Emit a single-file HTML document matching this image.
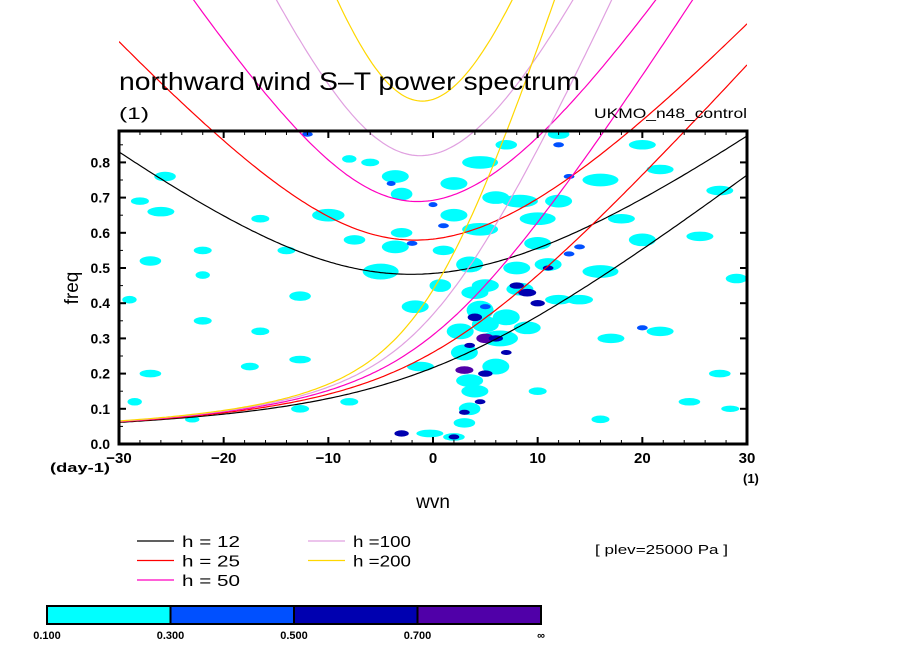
<!DOCTYPE html>
<html><head><meta charset="utf-8"><style>
body{margin:0;background:#fff;}
svg text{font-family:"Liberation Sans",sans-serif;fill:#000;}
</style></head><body>
<svg id="c" width="904" height="654" xmlns="http://www.w3.org/2000/svg">
<defs><clipPath id="pc"><rect x="119" y="131" width="628" height="313"/></clipPath>
<clipPath id="cc"><rect x="119" y="0" width="628" height="444"/></clipPath></defs>
<g id="blobs" clip-path="url(#pc)"></g>
<g id="curves" clip-path="url(#cc)"></g>
<rect x="119" y="131" width="628" height="313" fill="none" stroke="#000" stroke-width="3"/>
<g id="axes"></g>
<text x="119" y="90" font-size="25" textLength="461" lengthAdjust="spacingAndGlyphs">northward wind S–T power spectrum</text>
<text x="119" y="119" font-size="17" textLength="30" lengthAdjust="spacingAndGlyphs">(1)</text>
<text x="594" y="118" font-size="14" textLength="153" lengthAdjust="spacingAndGlyphs">UKMO_n48_control</text>
<text x="78" y="288" font-size="19" text-anchor="middle" transform="rotate(-90 78 288)">freq</text>
<text x="433" y="508" font-size="19" text-anchor="middle">wvn</text>
<text x="50" y="472" font-size="13" font-weight="bold" textLength="60" lengthAdjust="spacingAndGlyphs">(day-1)</text>
<text x="743" y="483" font-size="13" font-weight="bold">(1)</text>
<text x="595" y="554" font-size="13" textLength="133" lengthAdjust="spacingAndGlyphs">[ plev=25000 Pa ]</text>
<g id="legend"></g>
<g id="cbar"></g>
</svg>
<script>
const hValues=[12,25,50,100,200];
const hColors=["#000000","#ff0000","#ff00c0","#e0a0e0","#ffd700"];
const xTicks=[-30,-20,-10,0,10,20,30];
const yTicks=[0,0.1,0.2,0.3,0.4,0.5,0.6,0.7,0.8];
const cbLevels=["0.100","0.300","0.500","0.700","∞"];
const cbColors=["#00ffff","#0050ff","#0000b0","#5000a8"];
const blobWvn=[-25.6,-28,-26,-16.5,-10,-8,-3.6,-3,2,4.5,7,2,-3.6,-7.5,-14,-22,-27,-22,-12.7,-5,-1.7,0.7,3.5,8.3,11,16,20,25.5,27.4,21.7,16,12,20,-22,-16.5,-27,-12.7,-1.2,2.6,4.5,6.4,3.5,3.5,-0.3,17,21.7,27.4,24.5,10,16,-17.5,-23,-12.7,-8,28.4,14,18,4.5,8.3,10,12,29,-29,-28.5,3,5,7,6,4,8,9,3,2,5,10,12,-3,1,-6,6,4,
 4,5,6,3,5,4.5,3,2,-3,8,9,10,5,3.5,7,11,13,14,0,-4,-2,1,12,13,20,-12];
const blobFreq=[0.76,0.69,0.66,0.64,0.65,0.81,0.76,0.71,0.74,0.8,0.85,0.65,0.56,0.58,0.55,0.55,0.52,0.48,0.42,0.49,0.39,0.45,0.51,0.44,0.51,0.49,0.58,0.59,0.72,0.78,0.75,0.88,0.85,0.35,0.32,0.2,0.24,0.22,0.32,0.38,0.3,0.18,0.1,0.03,0.3,0.32,0.2,0.12,0.15,0.07,0.22,0.07,0.1,0.12,0.1,0.41,0.64,0.61,0.69,0.64,0.41,0.47,0.41,0.12,0.26,0.34,0.36,0.22,0.15,0.5,0.33,0.06,0.02,0.45,0.57,0.69,0.6,0.55,0.8,0.7,0.43,
 0.36,0.3,0.3,0.21,0.2,0.12,0.09,0.02,0.03,0.45,0.43,0.4,0.39,0.28,0.26,0.5,0.54,0.56,0.68,0.74,0.57,0.62,0.85,0.76,0.33,0.88];
const blobLevel=[0,0,0,0,0,0,0,0,0,0,0,0,0,0,0,0,0,0,0,0,0,0,0,0,0,0,0,0,0,0,0,0,0,0,0,0,0,0,0,0,0,0,0,0,0,0,0,0,0,0,0,0,0,0,0,0,0,0,0,0,0,0,0,0,0,0,0,0,0,0,0,0,0,0,0,0,0,0,0,0,0,
 2,3,2,3,2,2,2,2,2,2,2,2,1,2,2,2,1,1,1,1,1,1,1,1,1,1];
const blobRx=[1.2,1,1.5,1,1.8,0.8,1.5,1.2,1.5,2,1.2,1.5,1.5,1.2,1,1,1.2,0.8,1.2,2,1.5,1.2,1.5,1.5,1.5,2,1.5,1.5,1.5,1.5,2,1.2,1.5,1,1,1.2,1.2,1.5,1.5,1.5,2,1.5,1.2,1.5,1.5,1.5,1.2,1.2,1,1,1,0.8,1,1,1,1.5,1.5,2,2,2,1.5,1.2,0.8,0.8,1.5,1.5,1.5,1.5,1.5,1.5,1.5,1.2,1.2,1.5,1.5,1.5,1.2,1.2,1,1.5,1.5,
 0.8,1,0.8,1,0.8,0.6,0.6,0.6,0.8,0.8,1,0.8,0.6,0.6,0.6,0.6,0.6,0.6,0.5,0.5,0.6,0.6,0.6,0.6,0.6,0.6];
const blobRy=[0.015,0.012,0.015,0.012,0.02,0.012,0.02,0.02,0.02,0.02,0.015,0.02,0.02,0.015,0.012,0.012,0.015,0.012,0.015,0.025,0.02,0.02,0.025,0.02,0.02,0.02,0.02,0.015,0.015,0.015,0.02,0.015,0.015,0.012,0.012,0.012,0.012,0.015,0.025,0.03,0.025,0.02,0.02,0.012,0.015,0.015,0.012,0.012,0.012,0.012,0.012,0.01,0.012,0.012,0.01,0.015,0.015,0.02,0.02,0.02,0.015,0.015,0.012,0.012,0.025,0.025,0.025,0.025,0.02,0.02,0.02,0.015,0.012,0.02,0.02,0.02,0.015,0.015,0.012,0.02,0.02,
 0.012,0.015,0.01,0.012,0.01,0.008,0.008,0.008,0.01,0.01,0.012,0.01,0.008,0.008,0.008,0.008,0.008,0.008,0.008,0.008,0.008,0.008,0.008,0.008,0.008,0.008];

const X0=119,X1=747,Y0=444,PY=352;
const xs=k=>X0+(k+30)*(X1-X0)/60;
const ys=f=>Y0-f*PY;
const NS="http://www.w3.org/2000/svg";
function mk(tag,at,parent){const e=document.createElementNS(NS,tag);for(const k in at)e.setAttribute(k,at[k]);parent.appendChild(e);return e;}

const bg=document.getElementById('blobs');
for(let i=0;i<blobWvn.length;i++){
 const e=mk('ellipse',{cx:xs(blobWvn[i]),cy:ys(blobFreq[i]),rx:blobRx[i]*9,ry:blobRy[i]*PY*0.9,fill:cbColors[blobLevel[i]]},bg);
 
 
}

const g=9.81,beta=2*7.292e-5/6.371e6,a=6.371e6,cpd=86400/(2*Math.PI);
function mrg(k,c){const kk=k/a;return (kk*c/2+Math.sqrt(kk*kk*c*c/4+beta*c))*cpd;}
function ig(k,c){const kk=k/a;let w=Math.sqrt(c*c*kk*kk+5*beta*c)*1.05;
 for(let i=0;i<40;i++){const f=w*w*w-(c*c*kk*kk+5*beta*c)*w-beta*kk*c*c;const d=3*w*w-(c*c*kk*kk+5*beta*c);w-=f/d;}
 return w*cpd;}
const cg=document.getElementById('curves');
hValues.forEach((h,j)=>{
 const c=Math.sqrt(g*h);
 [mrg,ig].forEach((fn,m)=>{
  let p=[];for(let k=-30;k<=30.001;k+=0.25){const f=fn(k,c);p.push(xs(k).toFixed(1)+','+Math.max(-50,ys(f)).toFixed(1));}
  const e=mk('polyline',{points:p.join(' '),fill:'none',stroke:hColors[j],'stroke-width':1.2},cg);
  
  
 });
});

const ax=document.getElementById('axes');
for(let k=-30;k<=30;k+=2){const major=k%10===0;
 mk('line',{x1:xs(k),x2:xs(k),y1:Y0,y2:Y0-(major?7:4),stroke:'#000','stroke-width':major?2:1},ax);
 mk('line',{x1:xs(k),x2:xs(k),y1:131,y2:131+(major?7:4),stroke:'#000','stroke-width':major?2:1},ax);}
xTicks.forEach(k=>{const t=mk('text',{x:xs(k),y:Y0+19,'font-size':15,'text-anchor':'middle','font-weight':'bold'},ax);t.textContent=k===0?'0':(k<0?'−'+(-k):k);
 
 });
yTicks.forEach(f=>{
 mk('line',{x1:X0,x2:X0+7,y1:ys(f),y2:ys(f),stroke:'#000','stroke-width':2},ax);
 mk('line',{x1:X1,x2:X1-7,y1:ys(f),y2:ys(f),stroke:'#000','stroke-width':2},ax);
 mk('line',{x1:X0,x2:X0+4,y1:ys(f+0.05),y2:ys(f+0.05),stroke:'#000','stroke-width':1},ax);
 const t=mk('text',{x:110,y:ys(f)+5,'font-size':14,'text-anchor':'end','font-weight':'bold'},ax);t.textContent=f.toFixed(1);
 
 });

const lg=document.getElementById('legend');
hValues.forEach((h,j)=>{const col=j<3?0:1,row=j<3?j:j-3;const x=col?308:137,y=541+row*19.5;
 mk('line',{x1:x,x2:x+37,y1:y,y2:y,stroke:hColors[j],'stroke-width':1.3},lg);
 const t=mk('text',{x:x+45,y:y+6,'font-size':16,textLength:58,lengthAdjust:'spacingAndGlyphs'},lg);t.textContent=h<100?'h = '+h:'h ='+h;
 
 });

const cb=document.getElementById('cbar');
cbColors.forEach((c,i)=>{const e=mk('rect',{x:47+i*123.5,y:606,width:123.5,height:18,fill:c,stroke:'#000','stroke-width':2},cb);
 
 });
cbLevels.forEach((l,i)=>{const t=mk('text',{x:47+i*123.5,y:639,'font-size':11,'text-anchor':'middle','font-weight':'bold'},cb);t.textContent=l;
 
 });
</script>
</body></html>
